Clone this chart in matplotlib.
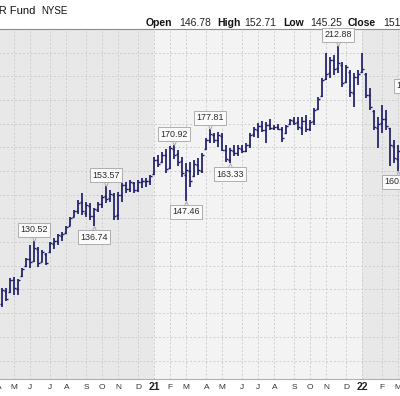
import numpy as np
import pandas as pd
import matplotlib
matplotlib.use("Agg")
import matplotlib.pyplot as plt
from matplotlib.path import Path

plt.rcParams["font.family"] = ["Liberation Sans", "DejaVu Sans"]

# weekly OHLC, first bar = week of 2020-04-13
high = [
    110.7, 110.5, 115.0, 115.3, 114.5, 119.1, 123.3, 128.8, 130.52, 128.0,
    126.7, 125.4, 130.1, 131.8, 133.5, 134.3, 136.8, 140.7, 143.6, 147.8,
    150.8, 147.0, 146.6, 144.5, 147.0, 150.0, 153.57, 152.1, 150.8, 151.2,
    155.0, 155.4, 156.3, 155.4, 156.3, 157.1, 157.1, 158.4, 166.0, 166.8,
    168.1, 169.5, 170.5, 170.92, 169.0, 166.0, 163.5, 163.9, 164.7, 165.6,
    167.7, 174.0, 177.81, 176.1, 176.5, 176.1, 171.0, 169.8, 171.0, 171.0,
    171.0, 171.9, 176.1, 178.7, 180.4, 181.2, 180.8, 182.0, 179.5, 179.9,
    178.5, 179.5, 182.0, 182.8, 182.9, 182.8, 183.7, 181.4, 186.5, 191.1,
    199.2, 209.9, 208.2, 209.1, 212.88, 206.1, 204.9, 202.7, 201.5, 202.7,
    209.9, 201.5, 195.1, 185.8, 182.9, 188.0, 185.8, 178.2, 173.2, 171.0,
    177.5, 182.0, 191.3,
]
low = [
    102.5, 105.0, 108.5, 107.7, 107.7, 115.3, 119.5, 119.0, 121.4, 119.5,
    121.4, 120.4, 125.6, 127.2, 128.9, 130.3, 133.5, 136.6, 140.4, 142.0,
    141.5, 140.7, 139.4, 136.74, 142.6, 144.5, 146.6, 147.0, 139.4, 139.4,
    147.0, 150.8, 151.2, 150.8, 151.2, 152.9, 153.3, 154.2, 158.4, 161.8,
    163.5, 159.2, 161.0, 165.2, 162.0, 157.5, 147.46, 153.3, 157.5, 158.4,
    159.2, 169.0, 171.9, 171.9, 170.2, 168.5, 164.0, 163.33, 166.5, 166.5,
    167.7, 168.1, 169.8, 174.4, 174.0, 176.5, 171.9, 177.4, 177.4, 177.4,
    172.3, 175.5, 179.5, 179.5, 177.4, 175.3, 176.5, 176.8, 179.5, 185.8,
    191.3, 198.5, 199.4, 200.6, 201.5, 195.6, 197.2, 191.3, 187.1, 196.4,
    201.5, 190.9, 185.8, 177.4, 169.8, 176.1, 177.4, 162.0, 163.5, 160.2,
    164.5, 174.5, 180.0,
]
opens = [
    104.0, 109.5, 109.0, 114.0, 110.2, 115.8, 119.8, 123.0, 122.0, 127.0,
    121.8, 125.0, 126.0, 129.4, 130.4, 132.5, 134.0, 137.0, 140.8, 143.2,
    147.0, 142.5, 145.4, 141.0, 143.5, 146.0, 149.5, 148.5, 150.0, 141.5,
    150.0, 154.0, 152.5, 155.0, 152.2, 155.5, 156.0, 155.8, 158.6, 164.5,
    163.8, 167.0, 161.5, 169.5, 167.2, 164.2, 158.5, 160.0, 158.0, 162.5,
    160.2, 169.3, 173.0, 175.2, 173.2, 175.0, 169.0, 164.5, 168.5, 167.5,
    169.5, 168.6, 171.0, 175.5, 177.5, 179.0, 177.5, 179.5, 178.0, 178.6,
    177.6, 176.0, 179.8, 181.2, 180.6, 178.4, 181.0, 177.6, 181.0, 186.2,
    191.5, 199.0, 201.5, 207.0, 203.5, 205.0, 197.5, 202.0, 193.0, 199.8,
    202.0, 201.0, 192.2, 185.5, 178.0, 180.5, 182.0, 178.0, 170.5, 165.0,
    166.0, 177.0, 181.5,
]
closes = [
    109.8, 106.0, 114.2, 110.5, 113.8, 118.6, 122.9, 121.5, 127.5, 121.0,
    125.9, 121.2, 129.5, 130.6, 132.8, 133.6, 136.2, 140.1, 143.0, 146.5,
    143.0, 145.6, 141.0, 143.8, 146.2, 149.1, 148.2, 150.4, 141.2, 149.8,
    154.1, 152.3, 155.2, 152.0, 155.6, 156.0, 155.8, 157.9, 164.8, 163.0,
    166.9, 161.0, 169.8, 167.0, 164.0, 159.0, 160.5, 155.8, 162.8, 160.5,
    166.9, 173.2, 175.5, 173.0, 175.4, 169.0, 165.0, 168.9, 167.6, 169.8,
    168.5, 171.0, 175.2, 177.6, 178.9, 177.4, 179.6, 178.2, 178.8, 177.8,
    174.0, 179.0, 181.5, 180.4, 178.5, 181.0, 177.8, 180.9, 185.9, 190.4,
    198.6, 201.0, 206.8, 203.0, 205.5, 197.0, 203.8, 193.5, 199.6, 201.2,
    203.0, 192.0, 187.0, 178.5, 180.0, 182.0, 179.0, 171.0, 165.5, 168.5,
    177.0, 181.0, 184.0,
]

# labelled swing points: (bar index, side)
swings = [(8, "high"), (23, "low"), (26, "high"), (43, "high"), (46, "low"),
          (52, "high"), (57, "low"), (84, "high"), (99, "low"), (102, "high")]

header_labels = ["Open", "High", "Low", "Close"]
header_values = ["146.78", "152.71", "145.25", "151.10"]
title = "Consumer Discretionary Select Sector SPDR Fund"
exchange = "NYSE"

start = pd.Timestamp("2020-04-13")
all_weeks = pd.date_range("2020-04-06", "2022-05-02", freq="7D")
month_pos, month_txt, year_flag = [], [], []
prev = None
for d in all_weeks:
    if prev is None or d.month != prev.month:
        month_pos.append((d - start).days / 7 - 0.12)
        if d.month == 1:
            month_txt.append(d.strftime("%y"))
            year_flag.append(True)
        else:
            month_txt.append("JFMAMJJASOND"[d.month - 1])
            year_flag.append(False)
    prev = d
year_pos = [p for p, f in zip(month_pos, year_flag) if f]

W, H = 400, 396
fig = plt.figure(figsize=(W / 100, H / 100), dpi=100)
ax = fig.add_axes([0, 1 - 379 / H, 1, 350 / H])

ax.set_facecolor("#f3f3f3")
ax.axvspan(-5, year_pos[0], color="#e8e8e8", zorder=0, lw=0)
ax.axvspan(year_pos[1], 120, color="#e8e8e8", zorder=0, lw=0)

ax.vlines(month_pos, 72.2, 220, colors="#cdcdcd", linestyles=(0, (2, 2)), lw=0.7, zorder=0.5)
ax.hlines(np.arange(80, 220, 10), -5, 120, colors="#cdcdcd", linestyles=(0, (2, 2)), lw=0.7, zorder=0.5)

x = np.arange(len(high))
bar_color = "#1c1c6c"
ax.vlines(x, low, high, color=bar_color, lw=1.25, zorder=3)
ax.hlines(opens, x - 0.42, x, color=bar_color, lw=1.0, zorder=3)
ax.hlines(closes, x, x + 0.42, color=bar_color, lw=1.0, zorder=3)

v_up = Path([(-1, 2), (0, 0), (1, 2)])
v_down = Path([(-1, -2), (0, 0), (1, -2)])
for i, side in swings:
    if side == "high":
        val, dy, va, mk = high[i], 4.8, "bottom", v_up
    else:
        val, dy, va, mk = low[i], -4.8, "top", v_down
    ax.annotate(f"{val:.2f}", (i, val), xytext=(0, dy), textcoords="offset points",
                ha="center", va=va, fontsize=6.4, color="#2a2a2a", zorder=6,
                annotation_clip=False,
                bbox=dict(boxstyle="square,pad=0.28", fc="#fafafa", ec="#a3a3a3", lw=0.6))
    ax.plot(i, val, marker=mk, ms=5, mfc="none", mec="#a3a3a3", mew=0.6,
            zorder=5, clip_on=False)

# month / year labels under the axis (drawn as text so part-visible ones show too)
xt = ax.get_xaxis_transform()
for p, t, f in zip(month_pos, month_txt, year_flag):
    ax.text(p + 0.2, -0.024, t, transform=xt, ha="center", va="center", clip_on=False,
            fontsize=7.5 if f else 6, fontweight="bold" if f else "normal",
            color="#222222" if f else "#333333")

ax.set_xticks([])
ax.set_yticks([])
ax.set_xlim(-0.5, 99.5)
ax.set_ylim(72.2, 220.0)

for s in ["left", "right"]:
    ax.spines[s].set_visible(False)
ax.spines["top"].set_color("#8c8c8c")
ax.spines["top"].set_linewidth(0.8)
ax.spines["bottom"].set_color("#b0b0b0")
ax.spines["bottom"].set_linestyle((0, (1, 1)))
ax.spines["bottom"].set_linewidth(0.8)

fig.text(35 / W, 1 - 14 / H, title, ha="right", va="baseline", fontsize=8, color="#111111")
fig.text(41 / W, 1 - 14 / H, exchange, ha="left", va="baseline", fontsize=7, color="#111111")

label_x = [146, 217, 283, 348]
value_x = [179, 244, 310, 383]
for lab, val, lx, vx in zip(header_labels, header_values, label_x, value_x):
    fig.text(lx / W, 1 - 26 / H, lab, ha="left", va="baseline", fontsize=7.5,
             fontweight="bold", color="#111111")
    fig.text(vx / W, 1 - 26 / H, val, ha="left", va="baseline", fontsize=7.5, color="#222222")

fig.savefig("out.png", dpi=100)
